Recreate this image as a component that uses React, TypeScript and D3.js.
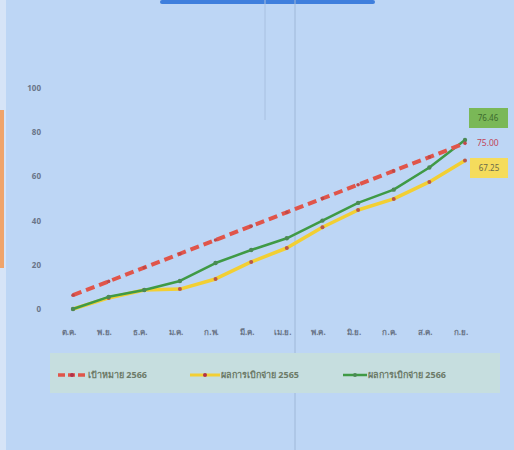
import React from "react";
import * as d3 from "d3";

const months = ["ต.ค.", "พ.ย.", "ธ.ค.", "ม.ค.", "ก.พ.", "มี.ค.", "เม.ย.", "พ.ค.", "มิ.ย.", "ก.ค.", "ส.ค.", "ก.ย."];
const target2566 = [6.25, 12.5, 18.75, 25, 31.25, 37.5, 43.75, 50, 56.25, 62.5, 68.75, 75];
const result2565 = [0, 5, 8.6, 9, 13.6, 21.3, 27.6, 37, 44.8, 49.8, 57.5, 67.25];
const result2566 = [0, 5.5, 8.6, 12.7, 20.8, 26.7, 32, 40, 48, 54, 64, 76.46];
const yTicks = [0, 20, 40, 60, 80, 100];
const legendLabels = ["เป้าหมาย 2566", "ผลการเบิกจ่าย 2565", "ผลการเบิกจ่าย 2566"];
const endLabels = ["75.00", "67.25", "76.46"];

const W = 514, H = 450;
const font = "'Noto Sans', 'DejaVu Sans', sans-serif";

export default function App() {
  const x = d3.scalePoint<string>().domain(months).range([73, 465]);
  const y = d3.scaleLinear().domain([0, 100]).range([309, 88]);
  const line = d3.line<number>().x((_, i) => x(months[i]) as number).y(d => y(d));

  const lastX = x(months[months.length - 1]) as number;

  return (
    <svg width={W} height={H} style={{ position: "absolute", left: 0, top: 0 }}>
      <rect x={0} y={0} width={W} height={H} fill="#bdd6f5" />
      <rect x={0} y={0} width={6} height={H} fill="#d6e4f7" />
      <rect x={0} y={110} width={4} height={158} fill="#f0a46a" />
      <rect x={160} y={0} width={215} height={4} rx={2} fill="#3f7fdd" />
      <line x1={295} x2={295} y1={0} y2={H} stroke="#9fb8d8" strokeWidth={1} />
      <line x1={265} x2={265} y1={0} y2={120} stroke="#a8c0e0" strokeWidth={1} />
      <rect x={50} y={353} width={450} height={40} fill="#c6dedf" />

      {yTicks.map(t => (
        <text key={t} x={41} y={y(t) + 3} fontSize={8} fontWeight="bold" fill="#6a7588" textAnchor="end" fontFamily={font}>{t}</text>
      ))}
      {months.map((m, i) => (
        <text key={m} x={(x(m) as number) - 4} y={335} fontSize={8} fontWeight="bold" fill="#6a7588" textAnchor="middle" fontFamily={font}>{m}</text>
      ))}

      <path d={line(result2565) || ""} fill="none" stroke="#f2cf33" strokeWidth={3.5} strokeLinejoin="round" />
      {result2565.map((v, i) => (
        <circle key={"y" + i} cx={x(months[i]) as number} cy={y(v)} r={2} fill="#b8564a" />
      ))}
      <path d={line(result2566) || ""} fill="none" stroke="#3f9a45" strokeWidth={2.5} strokeLinejoin="round" />
      {result2566.map((v, i) => (
        <circle key={"g" + i} cx={x(months[i]) as number} cy={y(v)} r={2.2} fill="#4b8a55" />
      ))}
      <path d={line(target2566) || ""} fill="none" stroke="#e0554a" strokeWidth={4} strokeDasharray="9 5" />
      {target2566.map((v, i) => (
        <circle key={"r" + i} cx={x(months[i]) as number} cy={y(v)} r={1.8} fill="#c04848" />
      ))}

      <rect x={469} y={108} width={39} height={20} fill="#7ab857" />
      <text x={488} y={121} fontSize={8} fill="#3c6a2e" textAnchor="middle" fontFamily={font}>{endLabels[2]}</text>
      <text x={477} y={y(target2566[11]) + 3} fontSize={8.5} fill="#c0455a" fontFamily={font}>{endLabels[0]}</text>
      <rect x={470} y={158} width={38} height={20} fill="#f5dc5c" />
      <text x={489} y={171} fontSize={8} fill="#6a6a4a" textAnchor="middle" fontFamily={font}>{endLabels[1]}</text>

      <g fontFamily={font} fontSize={9} fontWeight="bold" fill="#6c7a68">
        <line x1={58} x2={87} y1={375} y2={375} stroke="#e0554a" strokeWidth={3.5} strokeDasharray="7 3" />
        <circle cx={72} cy={375} r={2} fill="#b0304a" />
        <text x={88} y={378}>{legendLabels[0]}</text>
        <line x1={190} x2={220} y1={375} y2={375} stroke="#f2cf33" strokeWidth={3} />
        <circle cx={205} cy={375} r={2} fill="#b0304a" />
        <text x={221} y={378}>{legendLabels[1]}</text>
        <line x1={343} x2={367} y1={375} y2={375} stroke="#3f9a45" strokeWidth={2.5} />
        <circle cx={355} cy={375} r={2} fill="#4b8a55" />
        <text x={368} y={378}>{legendLabels[2]}</text>
      </g>
    </svg>
  );
}
